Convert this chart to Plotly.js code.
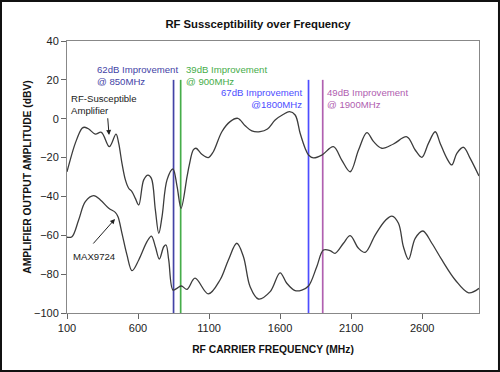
<!DOCTYPE html>
<html>
<head>
<meta charset="utf-8">
<script src="https://cdn.plot.ly/plotly-3.0.1.min.js"></script>
<style>html,body{margin:0;padding:0;background:#fff;}#chart{width:500px;height:372px;}</style>
</head>
<body>
<div id="chart"></div>
<script>
// RF-susceptible amplifier (upper curve)
const rfFreq = [100,116,158,206,225,253,299,342,398,445,464,487,511,534,558,581,605,640,670,694,722,746,769,804,846,875,903,945,961,989,1008,1049,1095,1130,1190,1248,1302,1354,1401,1459,1511,1565,1624,1666,1706,1741,1776,1800,1835,1894,1975,2034,2093,2152,2211,2258,2316,2398,2492,2551,2598,2644,2692,2727,2774,2809,2844,2891,2938,3000];
const rfAmp  = [-27.3,-23,-12.7,-4.9,-4.4,-5.3,-7.9,-7.0,-14.4,-7.9,-12.7,-23,-31.5,-35.8,-37.6,-41,-44.4,-31.5,-29,-30.7,-47,-59,-50.4,-31.5,-25.9,-35,-46.1,-29.8,-23.8,-16.1,-15.2,-18.3,-20,-17,-6.7,-1.5,0.2,-3.6,-6.3,-6.7,-5.3,-0.7,2.3,3.6,1.9,-7.5,-15.2,-18.7,-20.2,-18.7,-14.4,-21.3,-27.3,-16.1,-7.2,-11.8,-15.2,-13,-9.3,-16.1,-19.9,-12.7,-6.7,-12.7,-20.4,-23.8,-17.8,-14.7,-20.4,-29.5];

// MAX9724 (lower curve)
const maxFreq = [100,135,182,229,288,335,394,440,459,487,522,558,605,663,694,722,750,781,797,816,846,874,905,945,1001,1095,1177,1236,1295,1342,1389,1447,1530,1600,1647,1706,1753,1800,1858,1905,1952,1987,2046,2093,2152,2199,2269,2339,2387,2433,2468,2504,2551,2605,2668,2739,2833,2927,3000];
const maxAmp  = [-61,-60.7,-52.1,-42.7,-39.6,-41.8,-46.1,-48.2,-50.4,-59,-70.1,-78.2,-72.7,-63.3,-60.4,-65.9,-72.2,-65.9,-65,-72.7,-88.2,-87.3,-86.1,-87.8,-82.1,-90.2,-83,-72.7,-64.1,-71,-86.5,-92.8,-89,-79.3,-84.7,-88.5,-88.2,-86.1,-76.2,-67.6,-67.9,-69.3,-64.1,-60.2,-66.7,-68.8,-59.9,-52.5,-50.1,-53.8,-65.9,-72.4,-61.6,-57.8,-64.1,-72.7,-83,-89.6,-87.3];

// Improvement markers
const markFreq = [850, 900, 1800, 1900];
const markTop = 20;
const markBottom = -100;
const markLabels = ["62dB Improvement<br>@ 850MHz","39dB Improvement<br>@ 900MHz","67dB Improvement<br>@1800MHz","49dB Improvement<br>@ 1900MHz"];
const markColors = ["#4343a6","#46ad4a","#4d4dff","#b060b0"];
const labelX = [297, 924, 1769, 1917];
const labelY = [22, 22, 10.4, 10.4];
const labelAnchor = ["left","left","right","left"];

// ticks
const xTicks = [100,600,1100,1600,2100,2600];
const yTicks = [-100,-80,-60,-40,-20,0,20,40];

const font = "Liberation Sans, Arial, sans-serif";

const traces = [];
markFreq.forEach((f,i)=>{
  traces.push({x:[f,f], y:[markBottom,markTop], mode:'lines', type:'scatter',
    line:{color:markColors[i], width:1.7}, hoverinfo:'skip', showlegend:false});
});
traces.push({x:rfFreq, y:rfAmp, mode:'lines', type:'scatter', line:{color:'#3c3c3c', width:1.3, shape:'spline', smoothing:1}, showlegend:false});
traces.push({x:maxFreq, y:maxAmp, mode:'lines', type:'scatter', line:{color:'#3c3c3c', width:1.3, shape:'spline', smoothing:1}, showlegend:false});

const annotations = [];
markLabels.forEach((t,i)=>{
  annotations.push({x:labelX[i], y:labelY[i], xref:'x', yref:'y', text:t, showarrow:false,
    xanchor:labelAnchor[i], yanchor:'middle', align:labelAnchor[i],
    font:{family:font, size:9.6, color:markColors[i]}});
});
annotations.push({x:117, y:7.2, xref:'x', yref:'y', text:'RF-Susceptible<br>Amplifier', showarrow:false,
  xanchor:'left', yanchor:'middle', align:'left', font:{family:font, size:9.6, color:'#222'}});
annotations.push({x:130, y:-70.7, xref:'x', yref:'y', text:'MAX9724', showarrow:false,
  xanchor:'left', yanchor:'middle', align:'left', font:{family:font, size:9.6, color:'#222'}});
annotations.push({x:396, y:-8.4, xref:'x', yref:'y', ax:386, ay:1.0, axref:'x', ayref:'y', text:'',
  showarrow:true, arrowhead:2, arrowsize:1, arrowwidth:1, arrowcolor:'#222'});
annotations.push({x:438, y:-51.6, xref:'x', yref:'y', ax:276, ay:-65, axref:'x', ayref:'y', text:'',
  showarrow:true, arrowhead:2, arrowsize:1, arrowwidth:1, arrowcolor:'#222'});

const layout = {
  width:500, height:372,
  margin:{l:67, r:21, t:41, b:59},
  paper_bgcolor:'#fff', plot_bgcolor:'#fff',
  font:{family:font, size:11, color:'#222'},
  title:{text:'<b>RF Sussceptibility over Frequency</b>', font:{family:font, size:11.3, color:'#111'}, x:0.516, xanchor:'center', y:0.935, yanchor:'middle'},
  xaxis:{range:[100,3000], tickvals:xTicks, ticks:'outside', ticklen:5, tickcolor:'#666',
    showline:true, linecolor:'#888', mirror:true, showgrid:false, zeroline:false,
    tickfont:{family:font, size:11, color:'#222'},
    title:{text:'<b>RF CARRIER FREQUENCY (MHz)</b>', font:{family:font, size:10.3, color:'#111'}, standoff:12}},
  yaxis:{range:[-100,40], tickvals:yTicks, ticks:'outside', ticklen:5, tickcolor:'#666',
    showline:true, linecolor:'#888', mirror:true, showgrid:false, zeroline:false,
    tickfont:{family:font, size:11, color:'#222'},
    title:{text:'<b>AMPLIFIER OUTPUT AMPLITUDE (dBV)</b>', font:{family:font, size:10.3, color:'#111'}, standoff:0}},
  annotations:annotations,
  shapes:[{type:'rect', xref:'paper', yref:'paper', x0:-0.1602, x1:1.0485, y0:-0.2132, y1:1.1471,
    line:{color:'#111', width:2}, fillcolor:'rgba(0,0,0,0)', layer:'above'}]
};

Plotly.newPlot('chart', traces, layout, {displayModeBar:false, staticPlot:true});
</script>
</body>
</html>
